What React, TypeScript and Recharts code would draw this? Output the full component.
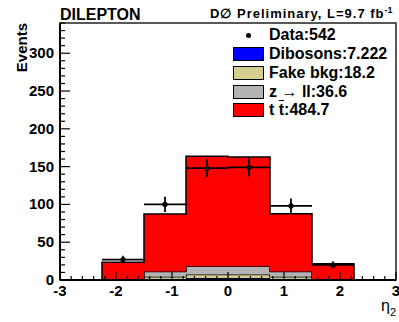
import { Area, ComposedChart, ErrorBar, Legend, ReferenceArea, Scatter, XAxis, YAxis } from 'recharts';

// 8 bins of width 0.75 between -3 and 3
const binEdges = [-3, -2.25, -1.5, -0.75, 0, 0.75, 1.5, 2.25, 3];
const dibosons = [0, 0.3, 0.8, 2.5, 2.5, 0.8, 0.3, 0];
const fakeBkg = [0, 0.8, 3.5, 4.8, 4.8, 3.5, 0.8, 0];
const zll = [0, 0.3, 7, 11, 11, 7, 0.3, 0];
const ttbar = [0, 22, 76, 145.5, 144.5, 76.5, 20.2, 0];
const dataCounts = [0, 27, 100, 148, 149, 98, 20, 0];

const xMajorTicks = [-3, -2, -1, 0, 1, 2, 3];
const yMajorTicks = [0, 50, 100, 150, 200, 250, 300];
const yMax = 340;

const legendRows = [
  { key: 'data', label: 'Data:542', color: '' },
  { key: 'dib', label: 'Dibosons:7.222', color: '#0000ff' },
  { key: 'fake', label: 'Fake bkg:18.2', color: '#d4cf8f' },
  { key: 'z', label: 'z \u2192 ll:36.6', color: '#b3b3b3' },
  { key: 'tt', label: 't\u00a0t:484.7', color: '#ff0000' },
];

const FONT = '"Liberation Sans", Arial, Helvetica, sans-serif';

// minor ticks: 0.2 on x, 10 on y
const xTicks: number[] = [];
for (let k = -15; k <= 15; k++) xTicks.push(Math.round(k * 2) / 10);
const yTicks: number[] = [];
for (let v = 0; v <= yMax; v += 10) yTicks.push(v);

const histRows = binEdges.map((x, i) => {
  const b = Math.min(i, dibosons.length - 1);
  return { x, dib: dibosons[b], fake: fakeBkg[b], z: zll[b], tt: ttbar[b] };
});

const points = dataCounts
  .map((n, i) => ({
    x: (binEdges[i] + binEdges[i + 1]) / 2,
    y: n,
    ex: (binEdges[i + 1] - binEdges[i]) / 2,
    ey: Math.sqrt(n),
  }))
  .filter((p) => p.y > 0);

function XTick(props: any) {
  const { x, y, payload } = props;
  const v = payload.value as number;
  const major = xMajorTicks.some((m) => Math.abs(m - v) < 1e-6);
  return (
    <g>
      <line x1={x} x2={x} y1={y} y2={y - (major ? 8 : 4)} stroke="#000" strokeWidth={1.2} />
      {major && (
        <text x={x} y={y + 16} textAnchor="middle" fontFamily={FONT} fontWeight="bold" fontSize={15} fill="#000">
          {Math.round(v)}
        </text>
      )}
    </g>
  );
}

function YTick(props: any) {
  const { x, y, payload } = props;
  const v = payload.value as number;
  const major = yMajorTicks.includes(v);
  return (
    <g>
      <line x1={x} x2={x + (major ? 10 : 5)} y1={y} y2={y} stroke="#000" strokeWidth={1.2} />
      {major && (
        <text x={x - 6} y={y + 5} textAnchor="end" fontFamily={FONT} fontWeight="bold" fontSize={15} fill="#000">
          {v}
        </text>
      )}
    </g>
  );
}

function DataDot(props: any) {
  const { cx, cy } = props;
  return <circle cx={cx} cy={cy} r={2.6} fill="#000" />;
}

function LegendBox() {
  return (
    <div style={{ fontFamily: FONT, fontWeight: 'bold', fontSize: 16, color: '#000' }}>
      {legendRows.map((r) => (
        <div key={r.key} style={{ height: 18.75, display: 'flex', alignItems: 'center' }}>
          <div style={{ width: 35, display: 'flex', justifyContent: 'center' }}>
            {r.color ? (
              <div style={{ width: 29, height: 12, background: r.color, border: '1.5px solid #000' }} />
            ) : (
              <div style={{ width: 5, height: 5, borderRadius: 3, background: '#000' }} />
            )}
          </div>
          <span style={{ marginLeft: 3, whiteSpace: 'nowrap' }}>
            {r.key === 'tt' ? (
              <>
                t <span style={{ textDecoration: 'overline' }}>t</span>:484.7
              </>
            ) : (
              r.label
            )}
          </span>
        </div>
      ))}
    </div>
  );
}

export default function App() {
  return (
    <div style={{ position: 'absolute', left: 0, top: 0, width: 399, height: 322, background: '#fff' }}>
      <ComposedChart width={399} height={322} data={histRows} margin={{ top: 23, right: 3, bottom: 0, left: 0 }}>
        <XAxis
          type="number"
          dataKey="x"
          domain={[-3, 3]}
          ticks={xTicks}
          interval={0}
          tickSize={0}
          tickMargin={0}
          tickLine={false}
          tick={<XTick />}
          height={42}
          axisLine={{ stroke: '#000', strokeWidth: 2 }}
          allowDataOverflow
        />
        <YAxis
          type="number"
          domain={[0, yMax]}
          ticks={yTicks}
          interval={0}
          tickSize={0}
          tickMargin={0}
          tickLine={false}
          tick={<YTick />}
          width={60}
          axisLine={{ stroke: '#000', strokeWidth: 2 }}
          allowDataOverflow
        />
        <ReferenceArea x1={-3} x2={3} y1={0} y2={yMax} fill="none" stroke="#222" strokeWidth={1.5} />
        <Area type="stepAfter" dataKey="dib" stackId="mc" fill="#0000ff" fillOpacity={1} stroke="#000" strokeWidth={1.5} isAnimationActive={false} />
        <Area type="stepAfter" dataKey="fake" stackId="mc" fill="#d4cf8f" fillOpacity={1} stroke="#000" strokeWidth={1.5} isAnimationActive={false} />
        <Area type="stepAfter" dataKey="z" stackId="mc" fill="#b3b3b3" fillOpacity={1} stroke="#000" strokeWidth={1.5} isAnimationActive={false} />
        <Area type="stepAfter" dataKey="tt" stackId="mc" fill="#ff0000" fillOpacity={1} stroke="#000" strokeWidth={1.5} isAnimationActive={false} />
        <Scatter data={points} dataKey="y" fill="#000" shape={<DataDot />} isAnimationActive={false}>
          <ErrorBar dataKey="ex" direction="x" width={0} stroke="#000" strokeWidth={1.8} />
          <ErrorBar dataKey="ey" direction="y" width={0} stroke="#000" strokeWidth={1.8} />
        </Scatter>
        <Legend
          layout="vertical"
          align="center"
          verticalAlign="middle"
          content={() => <LegendBox />}
          wrapperStyle={{ position: 'absolute', left: 231, top: 26, width: 168 }}
        />
      </ComposedChart>
      <svg width={399} height={322} style={{ position: 'absolute', left: 0, top: 0, pointerEvents: 'none' }}>
        <text x={60} y={20} fontFamily={FONT} fontWeight="bold" fontSize={16} fill="#000">
          DILEPTON
        </text>
        <text x={210} y={18} fontFamily={FONT} fontWeight="bold" fontSize={13} letterSpacing={1} fill="#000">
          D{'\u2205'} Preliminary, L=9.7 fb
          <tspan dy={-5} fontSize={9} letterSpacing={0}>
            -1
          </tspan>
        </text>
        <text
          transform="translate(27,23) rotate(-90)"
          textAnchor="end"
          fontFamily={FONT}
          fontWeight="bold"
          fontSize={15}
          fill="#000"
        >
          Events
        </text>
        <text x={381} y={311} fontFamily={FONT} fontSize={16} fill="#000">
          {'\u03b7'}
          <tspan dy={5} fontSize={11}>
            2
          </tspan>
        </text>
      </svg>
    </div>
  );
}
